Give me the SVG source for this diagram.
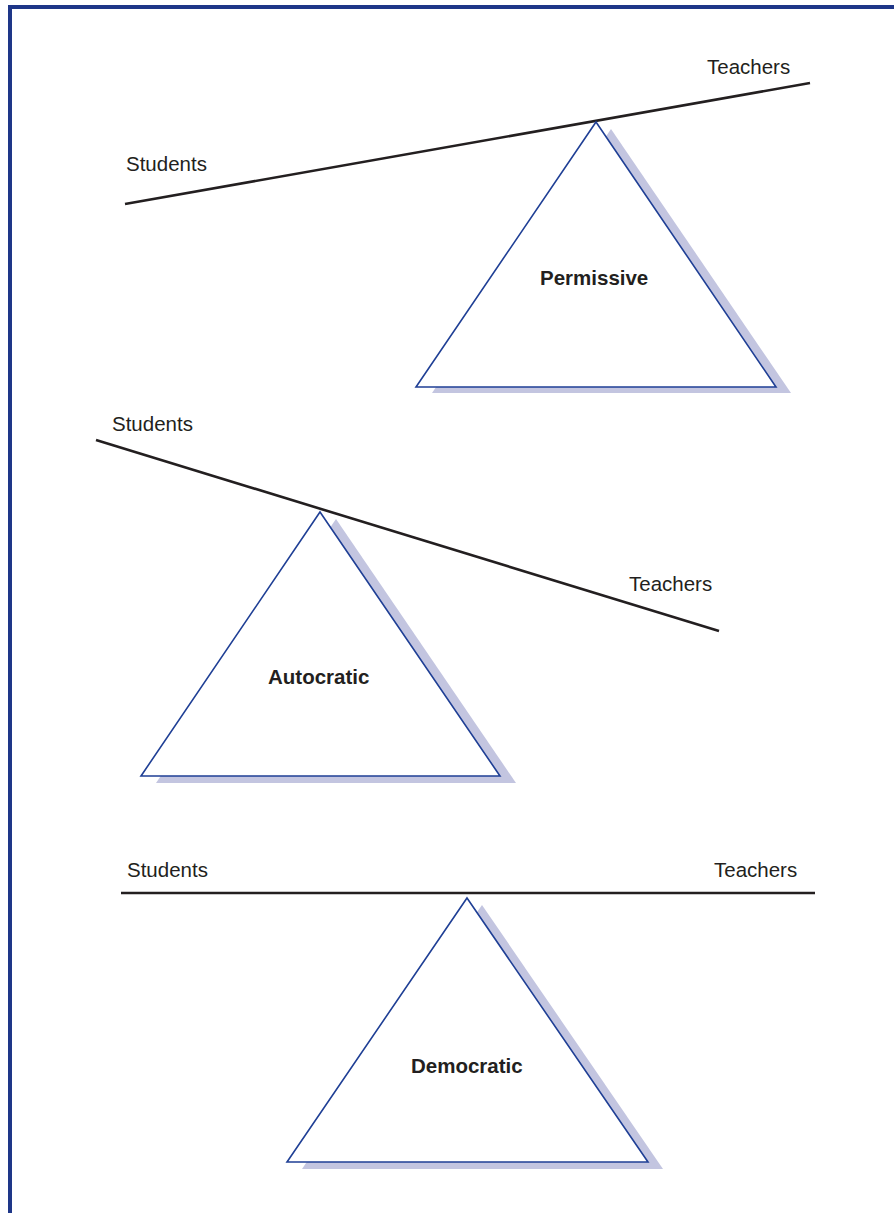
<svg xmlns="http://www.w3.org/2000/svg" width="894" height="1213" viewBox="0 0 894 1213">
<style>
.lbl{font-family:"Liberation Sans",Arial,sans-serif;font-size:20.5px;fill:#231f20}
.b{font-weight:bold}
.beam{stroke:#231f20;stroke-width:2.6;fill:none;stroke-linecap:butt}
.tri{fill:#ffffff;stroke:#1f3f95;stroke-width:1.6;stroke-linejoin:miter}
.sh{fill:#c3c5e0;stroke:none}
</style>
<rect width="894" height="1213" fill="#ffffff"/>
<g id="frame" fill="#1e3688">
<rect x="8" y="5" width="886" height="4"/>
<rect x="8" y="5" width="4" height="1208"/>
</g>
<g id="connectors">
<line class="beam" x1="125" y1="204" x2="810" y2="83"/>
<line class="beam" x1="96" y1="440" x2="719" y2="631"/>
<line class="beam" x1="121" y1="893" x2="815" y2="893"/>
</g>
<g id="permissive">
<polygon class="sh" points="611,129 791,393 432,393"/>
<polygon class="tri" points="596,122 776,387 416,387"/>
<text class="lbl b" x="540" y="285">Permissive</text>
</g>
<g id="autocratic">
<polygon class="sh" points="336,519 516,783 156,783"/>
<polygon class="tri" points="320,512 500,776 141,776"/>
<text class="lbl b" x="268" y="684">Autocratic</text>
</g>
<g id="democratic">
<polygon class="sh" points="482,905 663,1169 302,1169"/>
<polygon class="tri" points="467,898 648,1162 287,1162"/>
<text class="lbl b" x="411" y="1073">Democratic</text>
</g>
<g id="labels">
<text class="lbl" x="707" y="74">Teachers</text>
<text class="lbl" x="126" y="171">Students</text>
<text class="lbl" x="112" y="431">Students</text>
<text class="lbl" x="629" y="591">Teachers</text>
<text class="lbl" x="127" y="877">Students</text>
<text class="lbl" x="714" y="877">Teachers</text>
</g>
</svg>
